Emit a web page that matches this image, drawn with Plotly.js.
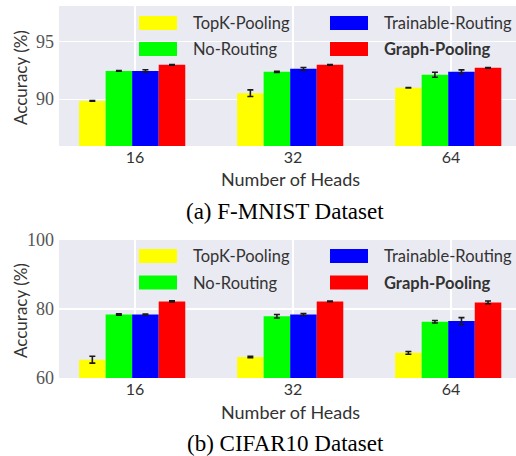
<!DOCTYPE html>
<html>
<head>
<meta charset="utf-8">
<script src="https://cdn.plot.ly/plotly-3.0.1.min.js"></script>
<style>html,body{margin:0;padding:0;background:#fff;}#chart{width:516px;height:456px;}</style>
</head>
<body>
<div id="chart"></div>
<script>
// ---- data ----
const heads = ["16", "32", "64"];
const seriesNames = ["TopK-Pooling", "No-Routing", "Trainable-Routing", "Graph-Pooling"];
const seriesColors = ["#FFFF00", "#00FF00", "#0000FF", "#FF0000"];

// F-MNIST accuracy (%)
const fmnistTopK = [89.85, 90.52, 90.99];
const fmnistNoRouting = [92.46, 92.38, 92.12];
const fmnistTrainable = [92.46, 92.64, 92.38];
const fmnistGraph = [92.99, 92.99, 92.73];
const fmnistTopKErr = [0.03, 0.29, 0.02];
const fmnistNoRoutingErr = [0.02, 0.05, 0.22];
const fmnistTrainableErr = [0.1, 0.12, 0.17];
const fmnistGraphErr = [0.03, 0.03, 0.03];

// CIFAR10 accuracy (%)
const cifarTopK = [65.3, 66.1, 67.3];
const cifarNoRouting = [78.4, 77.9, 76.3];
const cifarTrainable = [78.4, 78.4, 76.5];
const cifarGraph = [82.2, 82.2, 81.9];
const cifarTopKErr = [1.0, 0.2, 0.4];
const cifarNoRoutingErr = [0.2, 0.5, 0.35];
const cifarTrainableErr = [0.15, 0.3, 1.0];
const cifarGraphErr = [0.15, 0.1, 0.4];

const xLabel = "Number of Heads";
const yLabel = "Accuracy (%)";
const captions = ["(a) F-MNIST Dataset", "(b) CIFAR10 Dataset"];

// ---- build ----
const SANS = "Lato, 'Open Sans', sans-serif";
const SERIF = "'Liberation Serif', 'DejaVu Serif', serif";
const xpos = heads.map((_, i) => i);
const barW = 0.168;
const offsets = [-0.354, -0.186, -0.018, 0.15];

const fm = [fmnistTopK, fmnistNoRouting, fmnistTrainable, fmnistGraph];
const fmE = [fmnistTopKErr, fmnistNoRoutingErr, fmnistTrainableErr, fmnistGraphErr];
const cf = [cifarTopK, cifarNoRouting, cifarTrainable, cifarGraph];
const cfE = [cifarTopKErr, cifarNoRoutingErr, cifarTrainableErr, cifarGraphErr];

const traces = [];
function addSet(vals, errs, xa, ya) {
  vals.forEach((v, k) => {
    traces.push({
      type: "bar", x: xpos, y: v, xaxis: xa, yaxis: ya,
      width: barW, offset: offsets[k],
      marker: {color: seriesColors[k], line: {width: 0}},
      name: seriesNames[k], showlegend: false,
      error_y: {type: "data", array: errs[k], visible: true, color: "#1a1a1a", thickness: 1.6, width: 3},
      hoverinfo: "skip"
    });
  });
}
addSet(fm, fmE, "x", "y");
addSet(cf, cfE, "x2", "y2");

// pixel -> paper helpers (plot area spans x 59..516, y 6..378)
const L = 59, R = 516, T = 6, B = 378;
const px = x => (x - L) / (R - L);
const py = y => (B - y) / (B - T);

const shapes = [], annotations = [];
// manual legends (one per panel)
const legendOrder = [0, 2, 1, 3]; // row-major: TopK, Trainable / No-Routing, Graph
function addLegend(row1Center, row2Center) {
  legendOrder.forEach((k, idx) => {
    const col = idx % 2, row = Math.floor(idx / 2);
    const cy = row === 0 ? row1Center : row2Center;
    const rx = col === 0 ? 139 : 330;
    shapes.push({type: "rect", xref: "paper", yref: "paper",
      x0: px(rx), x1: px(rx + 38), y0: py(cy + 7), y1: py(cy - 7),
      fillcolor: seriesColors[k], line: {width: 0}, layer: "above"});
    const bold = k === 3;
    annotations.push({xref: "paper", yref: "paper", x: px(rx + 52), y: py(cy),
      xanchor: "left", yanchor: "middle", showarrow: false,
      text: bold ? "<b>" + seriesNames[k] + "</b>" : seriesNames[k],
      font: {family: SANS, size: 16.5, color: "#333"}});
  });
}
addLegend(23, 49);
addLegend(256, 282.5);

// axis titles & captions
[179, 412].forEach(yc => {
  annotations.push({xref: "paper", yref: "paper", x: px(290), y: py(yc), xanchor: "center", yanchor: "middle",
    showarrow: false, text: xLabel, font: {family: SANS, size: 18, color: "#333"}});
});
[78, 311].forEach(yc => {
  annotations.push({xref: "paper", yref: "paper", x: px(20), y: py(yc), xanchor: "center", yanchor: "middle",
    showarrow: false, text: yLabel, textangle: -90, font: {family: SANS, size: 17, color: "#333"}});
});
annotations.push({xref: "paper", yref: "paper", x: px(285), y: py(212), xanchor: "center", yanchor: "middle",
  showarrow: false, text: captions[0], font: {family: SERIF, size: 23, color: "#000"}});
annotations.push({xref: "paper", yref: "paper", x: px(285), y: py(443), xanchor: "center", yanchor: "middle",
  showarrow: false, text: captions[1], font: {family: SERIF, size: 23, color: "#000"}});

const xaxisBase = {
  range: [-0.481, 2.411], tickvals: xpos, ticktext: heads, showgrid: true, gridcolor: "#fff", gridwidth: 1.2,
  zeroline: false, showline: false, ticks: "", fixedrange: true,
  tickfont: {family: SANS, size: 16, color: "#333"}
};
const yaxisBase = {
  showgrid: true, gridcolor: "#fff", gridwidth: 1.2, zeroline: false, showline: false, ticks: "",
  tickfont: {family: SERIF, size: 18, color: "#555"}, ticklabelstandoff: 4
};

const layout = {
  width: 516, height: 456,
  margin: {l: L, r: 516 - R, t: T, b: 456 - B, pad: 0},
  paper_bgcolor: "#fff", plot_bgcolor: "#EAEAF2",
  barmode: "overlay",
  showlegend: false,
  xaxis: Object.assign({}, xaxisBase, {anchor: "y", domain: [0, 1]}),
  xaxis2: Object.assign({}, xaxisBase, {anchor: "y2", domain: [0, 1]}),
  yaxis: Object.assign({}, yaxisBase, {anchor: "x", domain: [py(146), 1], range: [85.93, 98.1], tickvals: [90, 95]}),
  yaxis2: Object.assign({}, yaxisBase, {anchor: "x2", domain: [0, py(240)], range: [60, 100], tickvals: [60, 80, 100]}),
  shapes: shapes, annotations: annotations
};

Plotly.newPlot("chart", traces, layout, {staticPlot: true, displayModeBar: false});
</script>
</body>
</html>
